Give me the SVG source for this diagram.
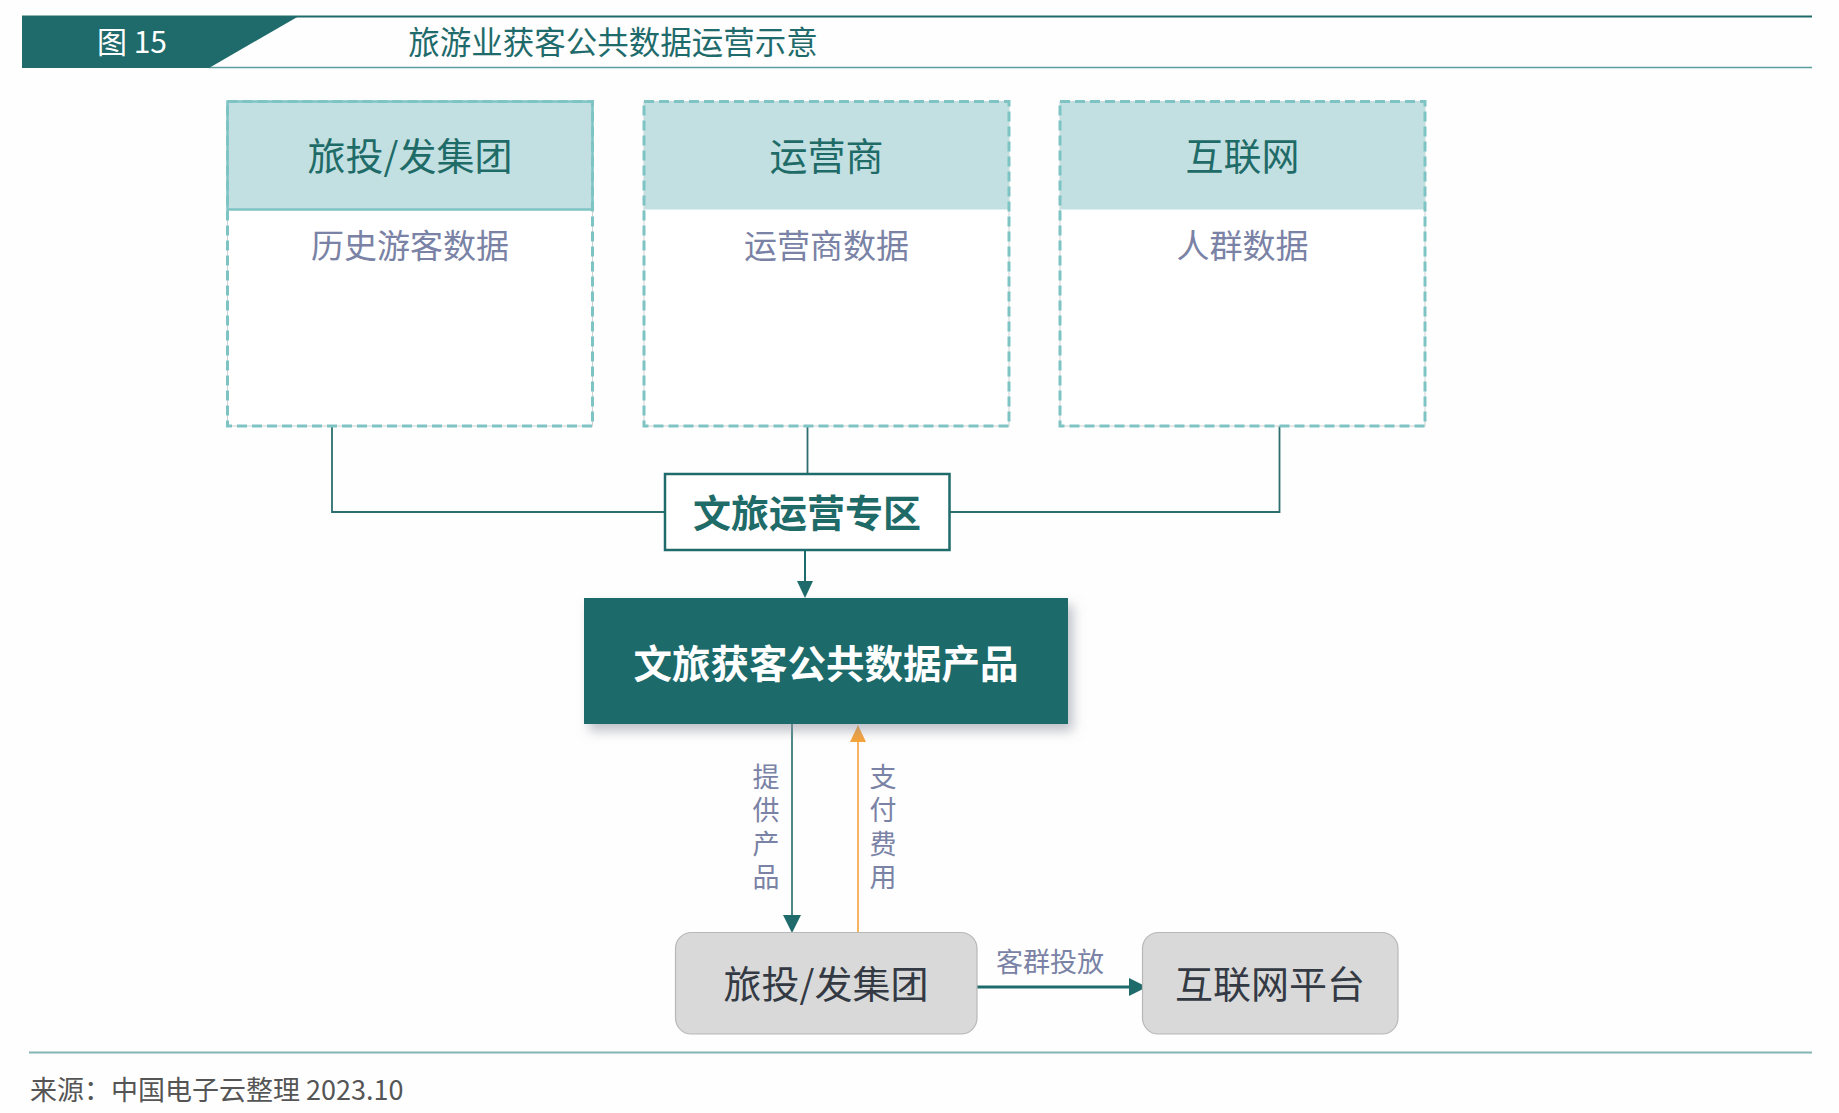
<svg xmlns="http://www.w3.org/2000/svg" width="1839" height="1113" viewBox="0 0 1839 1113">
<defs>
<style>
text{font-family:"Noto Sans CJK SC","Noto Sans",sans-serif;}
.hd{font-size:38px;fill:#1f6b68;text-anchor:middle;dominant-baseline:central;}
.sub{font-size:33px;fill:#7a82a5;text-anchor:middle;dominant-baseline:central;}
.lbl{font-size:27px;fill:#7a82a5;text-anchor:middle;dominant-baseline:central;}
.vl{font-size:27px;fill:#7a82a5;text-anchor:middle;writing-mode:vertical-rl;letter-spacing:6.5px;}
.dash{fill:none;stroke:#7fc4c4;stroke-width:3;stroke-dasharray:10 5;}
.thin{fill:#fff;stroke:#d0d0d0;stroke-width:1;}
.conn{fill:none;stroke:#2c6f6e;stroke-width:1.8;}
.gbox{fill:#d9d9d9;stroke:#b8b8b8;stroke-width:1.2;}
.gtxt{font-size:38px;fill:#343a44;text-anchor:middle;dominant-baseline:central;}
</style>
<filter id="sh" x="-10%" y="-10%" width="130%" height="140%">
<feDropShadow dx="5" dy="7" stdDeviation="6" flood-color="#8a8f9c" flood-opacity="0.55"/>
</filter>
</defs>
<rect width="1839" height="1113" fill="#fefefe"/>

<g id="header">
<line x1="22" y1="16.5" x2="1812" y2="16.5" stroke="#1f6b6b" stroke-width="2.2"/>
<line x1="209" y1="67.5" x2="1812" y2="67.5" stroke="#5b9ea0" stroke-width="1.6"/>
<polygon points="22,16 299,16 209,68 22,68" fill="#1f6b6b"/>
<text x="132" y="40" font-size="30" fill="#ffffff" text-anchor="middle" dominant-baseline="central">图 15</text>
<text x="613" y="40" font-size="31.5" fill="#1f6b6b" text-anchor="middle" dominant-baseline="central">旅游业获客公共数据运营示意</text>
</g>

<g id="connectors">
<polyline class="conn" points="332,426 332,512 665,512"/>
<line class="conn" x1="807.5" y1="426" x2="807.5" y2="474"/>
<polyline class="conn" points="1279.5,426 1279.5,512 949.5,512"/>
<line x1="805" y1="550" x2="805" y2="584" stroke="#1f6b6b" stroke-width="2"/>
<path d="M797,581 L813,581 L805,598 Z" fill="#1f6b6b"/>
<line x1="792" y1="724" x2="792" y2="918" stroke="#1f6b6b" stroke-width="1.6"/>
<path d="M783,915 L801,915 L792,933 Z" fill="#1f6b6b"/>
<line x1="858" y1="933" x2="858" y2="740" stroke="#f5a33a" stroke-width="1.6"/>
<path d="M850,742 L866,742 L858,725 Z" fill="#f5a33a"/>
<line x1="977" y1="987" x2="1130" y2="987" stroke="#1f6b6b" stroke-width="3"/>
<path d="M1129,978 L1147,987 L1129,996 Z" fill="#1f6b6b"/>
<text class="vl" x="766" y="830">提供产品</text>
<text class="vl" x="883" y="830">支付费用</text>
<text class="lbl" x="1050" y="960">客群投放</text>
</g>

<g id="node-lvtou">
<rect class="thin" x="227.5" y="101.5" width="365" height="324.5"/>
<rect x="227.5" y="101.5" width="365" height="108" fill="#c2e0e1" stroke="#7fc4c4" stroke-width="2.5"/>
<rect class="dash" x="227.5" y="101.5" width="365" height="324.5"/>
<text class="hd" x="410" y="153">旅投/发集团</text>
<text class="sub" x="410" y="243.5">历史游客数据</text>
</g>

<g id="node-yunying">
<rect class="thin" x="644" y="101.5" width="365" height="324.5"/>
<rect x="644" y="101.5" width="365" height="108" fill="#c2e0e1"/>
<rect class="dash" x="644" y="101.5" width="365" height="324.5"/>
<text class="hd" x="826.5" y="153">运营商</text>
<text class="sub" x="826.5" y="243.5">运营商数据</text>
</g>

<g id="node-hulianwang">
<rect class="thin" x="1060" y="101.5" width="365" height="324.5"/>
<rect x="1060" y="101.5" width="365" height="108" fill="#c2e0e1"/>
<rect class="dash" x="1060" y="101.5" width="365" height="324.5"/>
<text class="hd" x="1242.5" y="153">互联网</text>
<text class="sub" x="1242.5" y="243.5">人群数据</text>
</g>

<g id="node-zhuanqu">
<rect x="665" y="474" width="284.5" height="76" fill="#ffffff" stroke="#1f6b6b" stroke-width="2.5"/>
<text x="807" y="510.5" font-size="38" font-weight="bold" fill="#1f6b68" text-anchor="middle" dominant-baseline="central">文旅运营专区</text>
</g>

<g id="node-product">
<rect x="584" y="598" width="484" height="126" fill="#1f6b6b" filter="url(#sh)"/>
<text x="826" y="660.5" font-size="38.5" font-weight="bold" fill="#ffffff" text-anchor="middle" dominant-baseline="central">文旅获客公共数据产品</text>
</g>

<g id="node-lvtou2">
<rect class="gbox" x="675.5" y="932.5" width="301.5" height="101.5" rx="16"/>
<text class="gtxt" x="826" y="981">旅投/发集团</text>
</g>

<g id="node-platform">
<rect class="gbox" x="1142.5" y="932.5" width="255.5" height="101.5" rx="16"/>
<text class="gtxt" x="1270" y="981">互联网平台</text>
</g>

<g id="footer">
<line x1="29" y1="1052.5" x2="1812" y2="1052.5" stroke="#86b3b3" stroke-width="2"/>
<text x="30" y="1088" font-size="27" fill="#555555" dominant-baseline="central">来源：中国电子云整理 2023.10</text>
</g>
</svg>
